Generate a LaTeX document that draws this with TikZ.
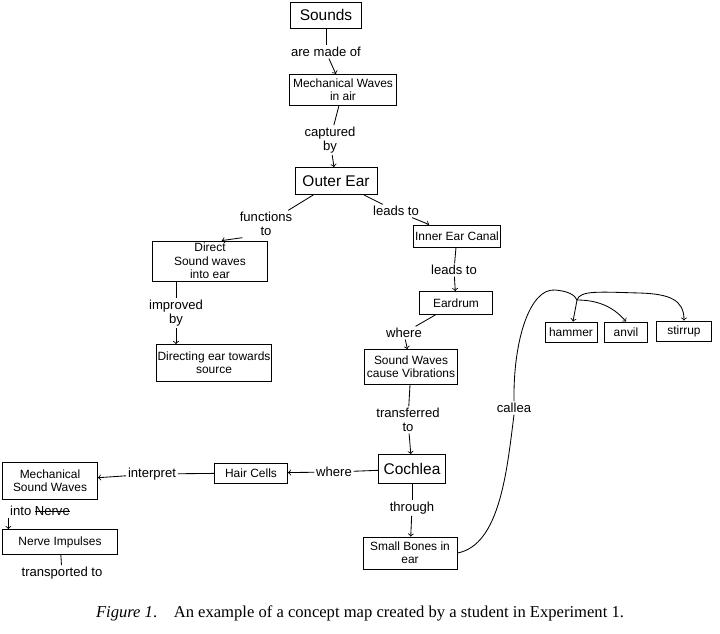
\documentclass[tikz,border=0pt]{standalone}
\usepackage{fontspec}
\setmainfont{Liberation Serif}
\newfontfamily\hand{Liberation Sans}
\newcommand{\strk}[1]{\sbox0{#1}\rlap{\rule[0.55ex]{\wd0}{0.6pt}}#1}
\tikzset{
  concept/.style={draw,semithick,inner sep=1pt,align=center,font=\hand\fontsize{8.5}{9.5}\selectfont},
  size/.style 2 args={minimum width=#1*0.025cm,minimum height=#2*0.025cm},
  big/.style={font=\hand\fontsize{11}{12}\selectfont},
  link/.style={inner sep=1pt,align=center,font=\hand\fontsize{9.3}{10}\selectfont},
}

\begin{document}
\begin{tikzpicture}[x=0.025cm,y=-0.025cm,semithick]
  \useasboundingbox (0,0) rectangle (720,633);
  % concepts
  \node[concept,big,size={71}{26}] (sounds) at (326,15) {Sounds};
  \node[concept,size={107}{31}] (waves) at (343,90) {Mechanical Waves\\in air};
  \node[concept,big,size={82}{27}] (outer) at (336,181) {Outer Ear};
  \node[concept,size={115}{40}] (direct) at (210,261) {Direct\\Sound waves\\into ear};
  \node[concept,size={112}{37}] (towards) at (214,363) {Directing ear towards\\source};
  \node[concept,size={82}{22}] (canal) at (457,236) {Inner Ear Canal};
  \node[concept,size={73}{23}] (drum) at (456,303) {Eardrum};
  \node[concept,size={93}{35}] (vib) at (411,367) {Sound Waves\\cause Vibrations};
  \node[concept,big,size={67}{29}] (cochlea) at (412,469) {Cochlea};
  \node[concept,size={73}{20}] (hair) at (251,473) {Hair Cells};
  \node[concept,size={95}{37}] (mech) at (50,481) {Mechanical\\Sound Waves};
  \node[concept,size={115}{25}] (nerve) at (60,542) {Nerve Impulses};
  \node[concept,size={94}{32}] (bones) at (410,553) {Small Bones in\\ear};
  \node[concept,size={52}{20}] (hammer) at (571,332) {hammer};
  \node[concept,size={43}{20}] (anvil) at (626,332) {anvil};
  \node[concept,size={55}{20}] (stirrup) at (684,331) {stirrup};
  % linking words
  \node[link] (made) at (326,52) {are made of};
  \node[link] (capt) at (330,140) {captured\\by};
  \node[link] (func) at (266,224) {functions\\to};
  \node[link] (lead) at (396,211) {leads to};
  \node[link] (lead2) at (454,270) {leads to};
  \node[link] (impr) at (176,313) {improved\\by};
  \node[link] (where) at (404,333) {where};
  \node[link] (trans) at (408,420) {transferred\\to};
  \node[link] (through) at (412,508) {through};
  \node[link] (wherer) at (334,472) {where};
  \node[link] (interp) at (152,474) {interpret};
  \node[link] (into) at (40,511) {into \strk{Nerve}};
  \node[link] (transp) at (62,573) {transported to};
  \node[link] (callea) at (514,408) {callea};
  % main chain
  \draw (sounds) -- (made);
  \draw[->] (made) -- (waves);
  \draw (waves) -- (capt);
  \draw[->] (capt) -- (outer);
  \draw (outer) -- (func);
  \draw[->] (func.210) -- (direct.60);
  \draw (direct.south -| impr) -- (impr);
  \draw[->] (impr) -- (impr |- towards.north);
  \draw (outer) -- (lead);
  \draw[->] (lead) -- (canal);
  \draw (canal) -- (lead2);
  \draw[->] (lead2) -- (drum);
  \draw (drum) -- (where);
  \draw[->] (where) -- (vib);
  \draw (vib) -- (trans);
  \draw[->] (trans) -- (cochlea);
  \draw (cochlea) -- (through);
  \draw[->] (through) -- (bones);
  % hair cells branch
  \draw (cochlea) -- (wherer);
  \draw[->] (wherer) -- (hair);
  \draw (hair) -- (interp);
  \draw[->] (interp) -- (mech);
  \draw[->] (into.south west) -- (into.south west |- nerve.north);
  \draw (nerve) -- (transp);
  % bones
  \coordinate (hub) at (577,300);
  \draw (bones.east) .. controls (500,545) and (507,470) .. (callea.south);
  \draw (callea.north) .. controls (513,340) and (530,288) .. (555,290)
    .. controls (568,291) and (575,295) .. (hub);
  \draw[->] (hub) -- (hammer);
  \draw[->] (hub) .. controls (595,300) and (612,305) .. (anvil.north);
  \draw[->] (hub) .. controls (580,290) and (600,292) .. (640,293)
    .. controls (670,294) and (684,300) .. (stirrup.north);
  % caption
  \node[font=\fontsize{11.8}{14}\selectfont] (cap) at (360,613)
    {\textit{Figure 1}.\quad An example of a concept map created by a student in Experiment 1.};
\end{tikzpicture}
\end{document}
